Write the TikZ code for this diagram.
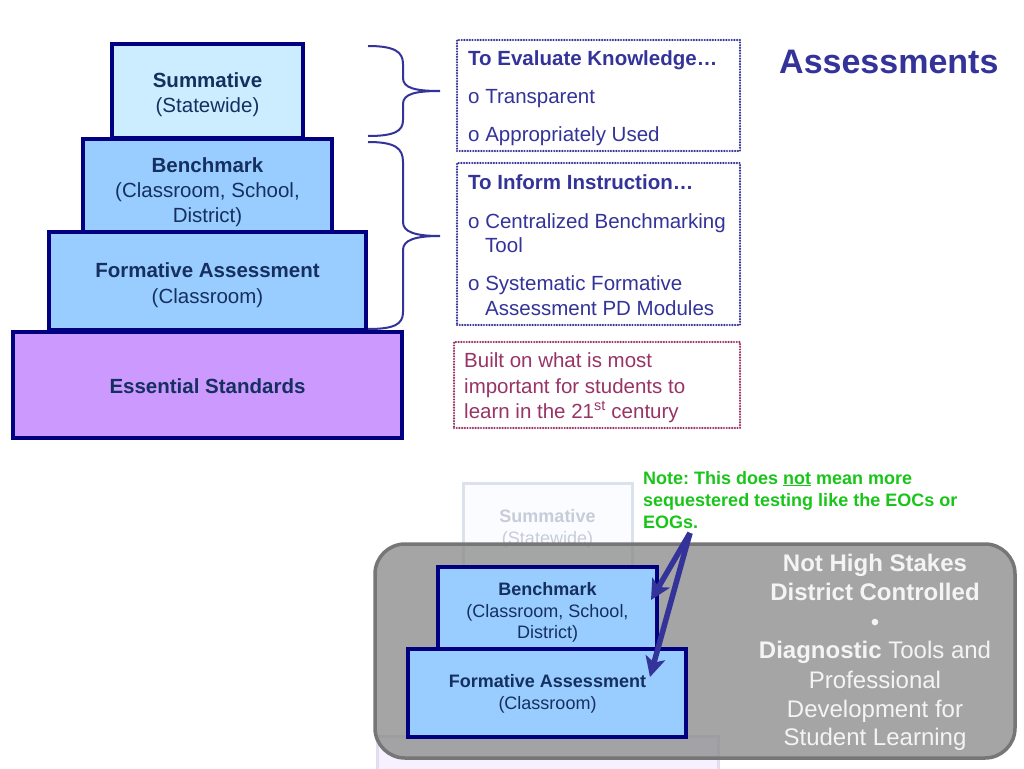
\documentclass[tikz,border=0pt]{standalone}
\usepackage{fontspec}
\setmainfont{Liberation Sans}
\usetikzlibrary{arrows.meta}
\definecolor{navyb}{HTML}{000080}
\definecolor{ptext}{HTML}{15305F}
\definecolor{sumfill}{HTML}{CCECFF}
\definecolor{midfill}{HTML}{99CCFF}
\definecolor{essfill}{HTML}{CC99FF}
\definecolor{slate}{HTML}{333399}
\definecolor{maroon}{HTML}{993366}
\definecolor{notegreen}{HTML}{1AC51A}
\definecolor{fadeline}{HTML}{DCE1EE}
\definecolor{fadetext}{HTML}{C6CCD8}
\definecolor{fadesum}{HTML}{FAFCFF}
\definecolor{fadeess}{HTML}{F7F1FF}
\definecolor{fadeessline}{HTML}{E4DDF0}
\definecolor{greyfill}{HTML}{888888}
\definecolor{greyline}{HTML}{767676}
\definecolor{whitetext}{HTML}{F4F4F4}
\frenchspacing
\begin{document}
\begin{tikzpicture}[x=1pt,y=-1pt,
  pbox/.style={draw=navyb, line width=3.2pt, inner sep=0pt},
  ptxt/.style={text=ptext, font=\fontsize{20.5}{25}\selectfont, anchor=base, inner sep=0pt},
  stxt/.style={text=ptext, font=\fontsize{18}{21}\selectfont, anchor=base, inner sep=0pt},
  dotbox/.style={draw=#1, line width=2.4pt, line cap=round, dash pattern=on 0pt off 2.7pt, inner sep=0pt},
  btxt/.style={text=#1, font=\fontsize{20.5}{25}\selectfont, anchor=base west, inner sep=0pt},
  wtxt/.style={text=whitetext, font=\fontsize{24}{29}\selectfont, anchor=base, inner sep=0pt},
  gtxt/.style={text=notegreen, font=\fontsize{18}{22}\selectfont\bfseries, anchor=base west, inner sep=0pt},
  bracepath/.style={draw=slate, line width=2pt},
  notearrow/.style={draw=slate, line width=5.5pt, -{Stealth[length=20pt,width=20pt,inset=5pt]}}
]
\useasboundingbox (0,0) rectangle (1024,768);
\fill[white] (0,0) rectangle (1024,768);

% ---------- top pyramid ----------
\node[pbox, fill=sumfill, minimum width=191pt, minimum height=94pt] (sum) at (207.5,91) {};
\node[pbox, fill=midfill, minimum width=249pt, minimum height=93pt] (bench) at (207.5,185.5) {};
\node[pbox, fill=midfill, minimum width=317pt, minimum height=98pt] (form) at (207.5,281) {};
\node[pbox, fill=essfill, minimum width=389pt, minimum height=106pt] (ess) at (207.5,385) {};

\node[ptxt] (sumA) at (207.5,87) {\bfseries Summative};
\node[ptxt] (sumB) at (207.5,112) {(Statewide)};
\node[ptxt] (benA) at (207.5,172) {\bfseries Benchmark};
\node[ptxt] (benB) at (207.5,197) {(Classroom, School,};
\node[ptxt] (benC) at (207.5,222) {District)};
\node[ptxt] (forA) at (207.5,277) {\bfseries Formative Assessment};
\node[ptxt] (forB) at (207.5,303) {(Classroom)};
\node[ptxt] (essA) at (207.5,393) {\bfseries Essential Standards};

% ---------- braces ----------
\draw[bracepath] (368,46) .. controls (395,46) and (403,52) .. (403,64) -- (403,78)
  .. controls (403,88) and (415,91) .. (440,91)
  .. controls (415,91) and (403,94) .. (403,104) -- (403,120)
  .. controls (403,131) and (395,136) .. (368,136);
\draw[bracepath] (368,142) .. controls (395,142) and (403,148) .. (403,162) -- (403,222)
  .. controls (403,232) and (415,236) .. (440,236)
  .. controls (415,236) and (403,240) .. (403,250) -- (403,312)
  .. controls (403,324) and (395,329) .. (368,329);

% ---------- dotted text boxes ----------
\node[dotbox=slate, minimum width=283pt, minimum height=111pt] (eval) at (598.5,95.5) {};
\node[btxt=slate] (evalA) at (468,65) {\bfseries To Evaluate Knowledge…};
\node[btxt=slate] (evalB) at (468,103) {o Transparent};
\node[btxt=slate] (evalC) at (468,141) {o Appropriately Used};

\node[dotbox=slate, minimum width=283pt, minimum height=162pt] (inform) at (598.5,244) {};
\node[btxt=slate] (infA) at (468,189) {\bfseries To Inform Instruction…};
\node[btxt=slate] (infB) at (468,228) {o Centralized Benchmarking};
\node[btxt=slate] (infC) at (485,252) {Tool};
\node[btxt=slate] (infD) at (468,290) {o Systematic Formative};
\node[btxt=slate] (infE) at (485,315) {Assessment PD Modules};

\node[dotbox=maroon, minimum width=286pt, minimum height=86pt] (built) at (597,385) {};
\node[btxt=maroon] (bltA) at (464,367) {Built on what is most};
\node[btxt=maroon] (bltB) at (464,393) {important for students to};
\node[btxt=maroon] (bltC) at (464,418) {learn in the 21\textsuperscript{st} century};

% ---------- title ----------
\node[text=slate, font=\fontsize{34}{40}\selectfont\bfseries, anchor=base west, inner sep=0pt] (title) at (779,73) {Assessments};

% ---------- bottom faded pyramid ----------
\node[draw=fadeline, fill=fadesum, line width=3pt, minimum width=169pt, minimum height=100pt, inner sep=0pt] (fsum) at (547.5,533) {};
\node[text=fadetext, font=\fontsize{18}{21}\selectfont\bfseries, anchor=base, inner sep=0pt] (fsumA) at (547.5,522) {Summative};
\node[text=fadetext, font=\fontsize{18}{21}\selectfont, anchor=base, inner sep=0pt] (fsumB) at (547.5,544) {(Statewide)};
\node[draw=fadeessline, fill=fadeess, line width=3pt, minimum width=341pt, minimum height=80pt, inner sep=0pt] (fess) at (547.5,776) {};

% ---------- grey panel ----------
\node[draw=greyline, line width=3.5pt, fill=greyfill, fill opacity=0.75, rounded corners=30pt, minimum width=640pt, minimum height=214pt, inner sep=0pt] (panel) at (695,651) {};

\node[wtxt] (pA) at (875,571) {\bfseries Not High Stakes};
\node[wtxt] (pB) at (875,600) {\bfseries District Controlled};
\node[wtxt] (pC) at (875,630) {•};
\node[wtxt] (pD) at (875,658) {\textbf{Diagnostic} Tools and};
\node[wtxt] (pE) at (875,688) {Professional};
\node[wtxt] (pF) at (875,717) {Development for};
\node[wtxt] (pG) at (875,745) {Student Learning};

% ---------- bottom boxes ----------
\node[pbox, fill=midfill, minimum width=219pt, minimum height=82pt] (sbench) at (547.5,608) {};
\node[pbox, fill=midfill, minimum width=278pt, minimum height=88pt] (sform) at (547,693) {};
\node[stxt] (sbA) at (547.5,595) {\bfseries Benchmark};
\node[stxt] (sbB) at (547.5,617) {(Classroom, School,};
\node[stxt] (sbC) at (547.5,638) {District)};
\node[stxt] (sfA) at (547.5,687) {\bfseries Formative Assessment};
\node[stxt] (sfB) at (547.5,709) {(Classroom)};

% ---------- note ----------
\node[gtxt] (nA) at (643,484) {Note: This does \underline{not} mean more};
\node[gtxt] (nB) at (643,506) {sequestered testing like the EOCs or};
\node[gtxt] (nC) at (643,528) {EOGs.};

\coordinate (nstart) at (690,533);
\coordinate (tipA) at (651,600);
\coordinate (tipB) at (650,677);
\draw[notearrow] (nstart) -- (tipA);
\draw[notearrow] (nstart) -- (tipB);
\end{tikzpicture}
\end{document}
